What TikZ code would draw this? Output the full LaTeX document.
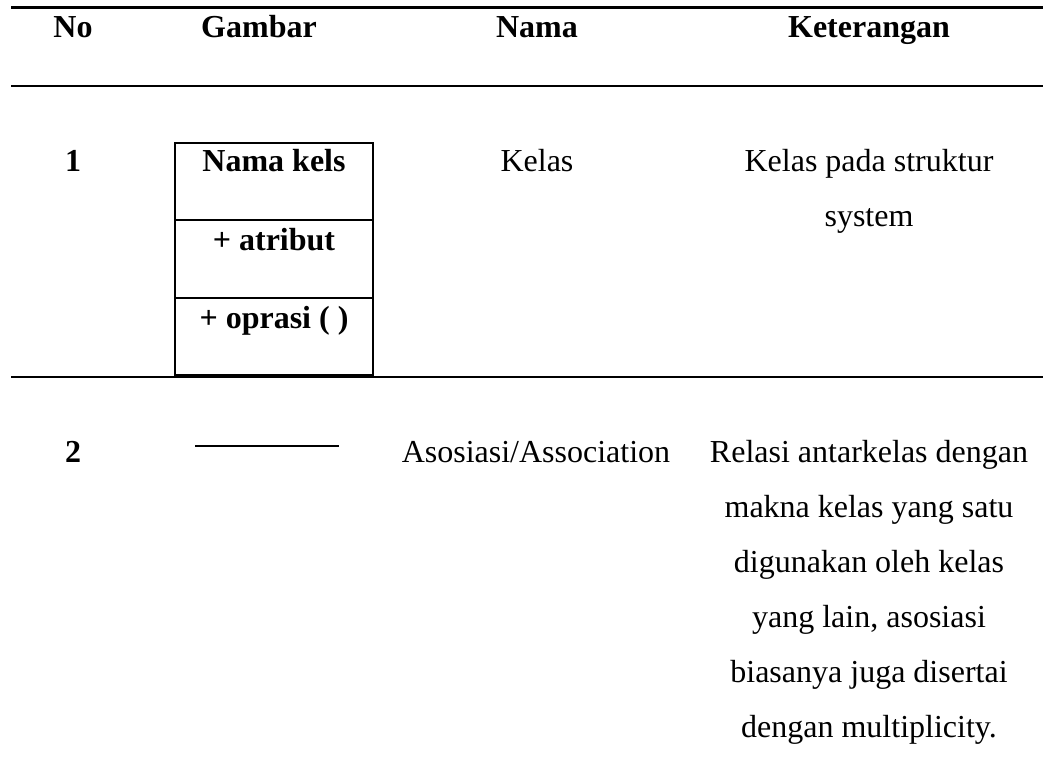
\documentclass[tikz,border=0pt]{standalone}
\usepackage{fontspec}
\setmainfont{Liberation Serif}
\begin{document}
\begin{tikzpicture}[x=1pt,y=-1pt,
  rule/.style={line width=2.2pt},
  cell/.style={anchor=base,inner sep=0pt,font=\fontsize{32}{55}\selectfont},
  head/.style={cell,font=\fontsize{32}{55}\selectfont\bfseries},
  para/.style={cell,align=center},
  classbox/.style={line width=1.8pt},
  classdiv/.style={line width=1.4pt}]
\useasboundingbox (0,0) rectangle (1043,783);

% table rules
\coordinate (t0l) at (11,7.5);   \coordinate (t0r) at (1043,7.5);
\coordinate (t1l) at (11,86);    \coordinate (t1r) at (1043,86);
\coordinate (t2l) at (11,377);   \coordinate (t2r) at (1043,377);
\draw[rule] (t0l) -- (t0r);
\draw[rule] (t1l) -- (t1r);
\draw[rule] (t2l) -- (t2r);

% header row
\node[head] (hno)  at (73,38)  {No};
\node[head] (hgam) at (259,38) {Gambar};
\node[head] (hnam) at (537,38) {Nama};
\node[head] (hket) at (869,38) {Keterangan};

% row 1: class symbol
\node[head] (n1) at (73,172) {1};
\draw[classbox] (175,143) rectangle (373,375);
\coordinate (d1l) at (175,220); \coordinate (d1r) at (373,220);
\coordinate (d2l) at (175,298); \coordinate (d2r) at (373,298);
\draw[classdiv] (d1l) -- (d1r);
\draw[classdiv] (d2l) -- (d2r);
\node[head] (cname) at (274,172) {Nama kels};
\node[head] (cattr) at (274,251) {+ atribut};
\node[head] (cop)   at (274,328) {+ oprasi ( )};
\node[cell] (kelas) at (537,172) {Kelas};
% multi-line cells: base anchor sits on the last line
\node[para] (ket1)  at (869,227) {Kelas pada struktur\\system};

% row 2: association
\node[head] (n2) at (73,462) {2};
\coordinate (asl) at (195,446); \coordinate (asr) at (339,446);
\draw[line width=1.4pt] (asl) -- (asr);
\node[cell] (asos) at (536,462) {Asosiasi/Association};
\node[para] (ket2) at (869,737) {Relasi antarkelas dengan\\makna kelas yang satu\\digunakan oleh kelas\\yang lain, asosiasi\\biasanya juga disertai\\dengan multiplicity.};
\end{tikzpicture}
\end{document}
